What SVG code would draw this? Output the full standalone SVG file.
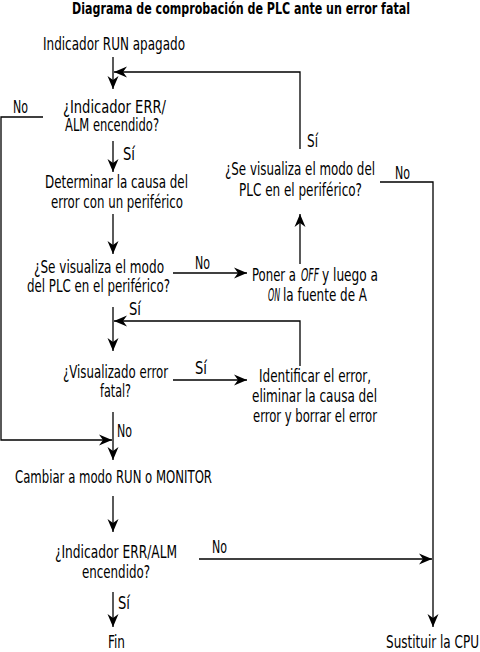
<svg xmlns="http://www.w3.org/2000/svg" width="480" height="652" viewBox="0 0 480 652">
<style>
text{font-family:"Liberation Sans Narrow","DejaVu Sans Condensed","Liberation Sans",sans-serif;font-size:17px;fill:#000}
.t{font-weight:bold;font-size:15px}
.c{fill:none;stroke:#000;stroke-width:1.3}
.i{font-style:italic}
</style>
<defs>
<marker id="ah" markerUnits="userSpaceOnUse" markerWidth="16" markerHeight="14" refX="13" refY="6" orient="auto">
<path d="M13,6 L0,0.5 L4,6 L0,11.5 Z" fill="#000"/>
</marker>
</defs>
<rect width="480" height="652" fill="#fff"/>
<text class="t" x="72" y="14" textLength="338" lengthAdjust="spacingAndGlyphs">Diagrama de comprobación de PLC ante un error fatal</text>

<g id="connectors">
<path class="c" d="M113,57 V89" marker-end="url(#ah)"/>
<path class="c" d="M300,149 V72 H114" marker-end="url(#ah)"/>
<path class="c" d="M43,117 H1 V440 H112" marker-end="url(#ah)"/>
<path class="c" d="M113,141 V172" marker-end="url(#ah)"/>
<path class="c" d="M113,214 V254" marker-end="url(#ah)"/>
<path class="c" d="M173,273 H247" marker-end="url(#ah)"/>
<path class="c" d="M300,264 V214" marker-end="url(#ah)"/>
<path class="c" d="M380,182 H433 V627" marker-end="url(#ah)"/>
<path class="c" d="M113,307 V351" marker-end="url(#ah)"/>
<path class="c" d="M300,366 V321 H114" marker-end="url(#ah)"/>
<path class="c" d="M173,380 H247" marker-end="url(#ah)"/>
<path class="c" d="M113,412 V460" marker-end="url(#ah)"/>
<path class="c" d="M113,496 V532" marker-end="url(#ah)"/>
<path class="c" d="M199,559 H432" marker-end="url(#ah)"/>
<path class="c" d="M113,592 V627" marker-end="url(#ah)"/>
<g id="labels">
<text x="13" y="113" textLength="15" lengthAdjust="spacingAndGlyphs">No</text>
<text x="123" y="160" textLength="12" lengthAdjust="spacingAndGlyphs">Sí</text>
<text x="307" y="147" textLength="11" lengthAdjust="spacingAndGlyphs">Sí</text>
<text x="395" y="179" textLength="15" lengthAdjust="spacingAndGlyphs">No</text>
<text x="195" y="269" textLength="15" lengthAdjust="spacingAndGlyphs">No</text>
<text x="129" y="315" textLength="12" lengthAdjust="spacingAndGlyphs">Sí</text>
<text x="195" y="374" textLength="12" lengthAdjust="spacingAndGlyphs">Sí</text>
<text x="117" y="437" textLength="15" lengthAdjust="spacingAndGlyphs">No</text>
<text x="212" y="553" textLength="15" lengthAdjust="spacingAndGlyphs">No</text>
<text x="118" y="609" textLength="12" lengthAdjust="spacingAndGlyphs">Sí</text>
</g>
</g>

<g id="start">
<text x="43" y="50" textLength="142" lengthAdjust="spacingAndGlyphs">Indicador RUN apagado</text>
</g>
<g id="q-err-alm-1">
<text x="63" y="113" textLength="103" lengthAdjust="spacingAndGlyphs">¿Indicador ERR/</text>
<text x="65" y="131" textLength="94" lengthAdjust="spacingAndGlyphs">ALM encendido?</text>
</g>
<g id="determine-cause">
<text x="45" y="188" textLength="143" lengthAdjust="spacingAndGlyphs">Determinar la causa del</text>
<text x="51" y="208" textLength="132" lengthAdjust="spacingAndGlyphs">error con un periférico</text>
</g>
<g id="q-plc-mode-1">
<text x="34" y="273" textLength="130" lengthAdjust="spacingAndGlyphs">¿Se visualiza el modo</text>
<text x="27" y="292" textLength="143" lengthAdjust="spacingAndGlyphs">del PLC en el periférico?</text>
</g>
<g id="power-cycle">
<text x="252" y="281" textLength="44" lengthAdjust="spacingAndGlyphs">Poner a</text>
<text class="i" x="301" y="281" textLength="18" lengthAdjust="spacingAndGlyphs">OFF</text>
<text x="322" y="281" textLength="56" lengthAdjust="spacingAndGlyphs">y luego a</text>
<text class="i" x="268" y="301" textLength="12" lengthAdjust="spacingAndGlyphs">ON</text>
<text x="283" y="301" textLength="84" lengthAdjust="spacingAndGlyphs">la fuente de A</text>
</g>
<g id="q-plc-mode-2">
<text x="225" y="175" textLength="150" lengthAdjust="spacingAndGlyphs">¿Se visualiza el modo del</text>
<text x="239" y="196" textLength="123" lengthAdjust="spacingAndGlyphs">PLC en el periférico?</text>
</g>
<g id="q-fatal">
<text x="63" y="378" textLength="105" lengthAdjust="spacingAndGlyphs">¿Visualizado error</text>
<text x="100" y="397" textLength="31" lengthAdjust="spacingAndGlyphs">fatal?</text>
</g>
<g id="identify-error">
<text x="259" y="382" textLength="112" lengthAdjust="spacingAndGlyphs">Identificar el error,</text>
<text x="252" y="402" textLength="125" lengthAdjust="spacingAndGlyphs">eliminar la causa del</text>
<text x="253" y="422" textLength="124" lengthAdjust="spacingAndGlyphs">error y borrar el error</text>
</g>
<g id="switch-mode">
<text x="15" y="483" textLength="197" lengthAdjust="spacingAndGlyphs">Cambiar a modo RUN o MONITOR</text>
</g>
<g id="q-err-alm-2">
<text x="55" y="558" textLength="122" lengthAdjust="spacingAndGlyphs">¿Indicador ERR/ALM</text>
<text x="82" y="578" textLength="68" lengthAdjust="spacingAndGlyphs">encendido?</text>
</g>
<g id="end">
<text x="108" y="648" textLength="17" lengthAdjust="spacingAndGlyphs">Fin</text>
</g>
<g id="replace-cpu">
<text x="386" y="648" textLength="93" lengthAdjust="spacingAndGlyphs">Sustituir la CPU</text>
</g>
</svg>
